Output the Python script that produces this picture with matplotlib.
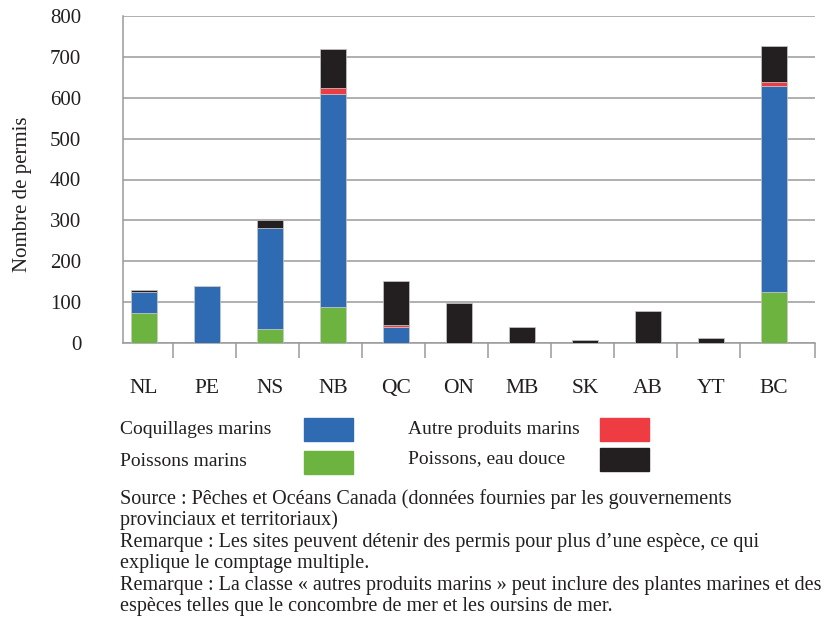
import numpy as np
import matplotlib.pyplot as plt
from matplotlib.patches import Rectangle

provinces = ['NL', 'PE', 'NS', 'NB', 'QC', 'ON', 'MB', 'SK', 'AB', 'YT', 'BC']
poissons_marins = [75, 0, 35, 89, 0, 0, 0, 0, 0, 0, 125]
coquillages = [50, 139, 247, 520, 39, 0, 0, 0, 0, 0, 503]
autres_marins = [0, 0, 0, 14, 6, 0, 0, 0, 0, 0, 11]
eau_douce = [4, 0, 18, 95, 106, 98, 40, 8, 80, 13, 88]

series = [
    ('Poissons marins', poissons_marins, '#6cb33f'),
    ('Coquillages marins', coquillages, '#2e6bb3'),
    ('Autre produits marins', autres_marins, '#ef3b42'),
    ('Poissons, eau douce', eau_douce, '#231f20'),
]

plt.rcParams['font.family'] = ['Liberation Serif', 'DejaVu Serif']
text_col = '#231f20'

fig = plt.figure(figsize=(8.27, 6.21), dpi=100)
ax = fig.add_axes([123/827, 1 - 343.3/621, (815 - 123)/827, (343.3 - 15.7)/621])

x = np.arange(len(provinces))
bottom = np.zeros(len(provinces))
for name, vals, col in series:
    vals = np.array(vals, dtype=float)
    ax.bar(x, vals, width=0.41, bottom=bottom, color=col,
           edgecolor='#c8c8c8', linewidth=0.5, zorder=3)
    bottom += vals

ax.set_xlim(-0.333, 10.65)
ax.set_ylim(0, 800)
ax.set_yticks(range(0, 801, 100))
ax.yaxis.grid(True, color='#9a9a9a', linewidth=1.1, zorder=0)
ax.tick_params(axis='y', length=0, pad=30, labelsize=15, labelcolor=text_col)

ax.set_xticks(x)
ax.set_xticklabels(provinces)
ax.set_xticks(list(np.arange(0.46, 10, 1.0)) + [10.65], minor=True)
ax.tick_params(axis='x', which='major', length=0, pad=26, labelsize=15.5,
               labelcolor=text_col)
ax.tick_params(axis='x', which='minor', length=11, width=1.1,
               color='#9a9a9a', direction='out')

for s in ['top', 'right']:
    ax.spines[s].set_visible(False)
for s in ['left', 'bottom']:
    ax.spines[s].set_color('#9a9a9a')
    ax.spines[s].set_linewidth(1.1)

ax.set_ylabel('Nombre de permis', fontsize=15, color=text_col)
ax.yaxis.set_label_coords(-0.132, 0.454)

# legend laid out as two columns: label text, then a colour swatch
legend_items = [
    ('Coquillages marins', '#2e6bb3', 120, 304, 429),
    ('Poissons marins', '#6cb33f', 120, 304, 462),
    ('Autre produits marins', '#ef3b42', 408, 600, 429),
    ('Poissons, eau douce', '#231f20', 408, 600, 459),
]
W, H = 827, 621
for label, col, tx, px, ty in legend_items:
    fig.text(tx/W, 1 - ty/H, label, fontsize=14, color=text_col,
             ha='left', va='center')
    fig.patches.append(Rectangle((px/W, 1 - (ty + 11.5)/H), 49/W, 23/H,
                                 transform=fig.transFigure, color=col))

notes = [
    'Source : Pêches et Océans Canada (données fournies par les gouvernements',
    'provinciaux et territoriaux)',
    'Remarque : Les sites peuvent détenir des permis pour plus d\u2019une espèce, ce qui',
    'explique le comptage multiple.',
    'Remarque : La classe « autres produits marins » peut inclure des plantes marines et des',
    'espèces telles que le concombre de mer et les oursins de mer.',
]
baselines = [504, 525, 547, 568, 590, 611]
for line, yb in zip(notes, baselines):
    fig.text(120/W, 1 - yb/H, line, fontsize=14.5, color=text_col,
             ha='left', va='baseline')

fig.savefig('out.png', dpi=100)
